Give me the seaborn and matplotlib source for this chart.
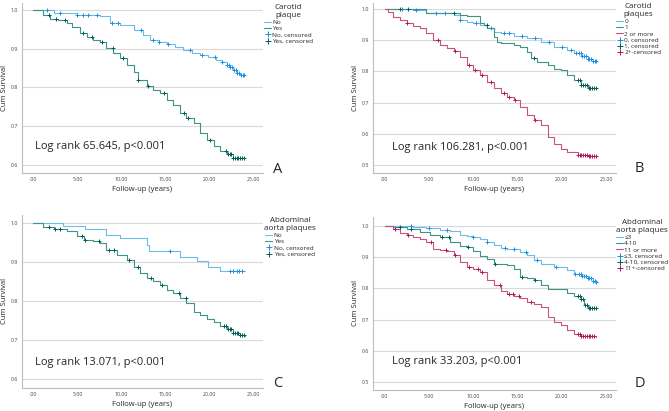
import numpy as np
import matplotlib
matplotlib.use("Agg")
import matplotlib.pyplot as plt
from matplotlib.lines import Line2D
import seaborn as sns

# --- data (step knots: time, cumulative survival) ---
a_no_t = [0, 2.3, 4.9, 7.6, 8.7, 9.8, 11.4, 12.4, 13.3, 14.3, 15.2, 16.1, 17.0, 18.0, 18.9, 19.8, 20.8, 21.4, 22.0, 22.4, 22.7, 23.1, 23.5, 23.9]
a_no_s = [1.0, 0.991, 0.988, 0.985, 0.967, 0.961, 0.948, 0.936, 0.923, 0.917, 0.912, 0.905, 0.897, 0.890, 0.884, 0.878, 0.871, 0.865, 0.858, 0.852, 0.845, 0.838, 0.833, 0.833]
a_yes_t = [0, 1.1, 1.9, 2.8, 3.8, 4.4, 5.3, 6.1, 6.8, 7.6, 8.3, 9.1, 9.8, 10.6, 11.4, 11.9, 12.9, 13.6, 14.4, 15.2, 15.9, 16.7, 17.4, 18.2, 18.9, 19.7, 20.5, 21.2, 22.0, 22.7, 23.9]
a_yes_s = [1.0, 0.987, 0.976, 0.973, 0.966, 0.957, 0.940, 0.931, 0.923, 0.918, 0.901, 0.888, 0.876, 0.858, 0.841, 0.820, 0.803, 0.794, 0.785, 0.768, 0.755, 0.734, 0.721, 0.708, 0.682, 0.665, 0.648, 0.635, 0.627, 0.618, 0.617]
a_no_cens = [1.5, 3.0, 4.9, 5.6, 6.2, 7.2, 8.9, 9.6, 12.2, 13.6, 14.3, 15.3, 17.8, 19.2, 20.6, 21.4, 22.0, 22.2, 22.4, 22.6, 22.8, 23.0, 23.2, 23.4, 23.6, 23.8, 23.9]
a_yes_cens = [1.8, 2.6, 3.6, 5.6, 6.7, 7.8, 9.0, 10.2, 11.9, 13.0, 14.8, 17.1, 17.6, 20.1, 21.9, 22.1, 22.3, 22.5, 22.7, 22.9, 23.1, 23.3, 23.5, 23.7, 23.9]

b0_t = [0, 1.7, 3.2, 4.7, 6.6, 7.8, 8.5, 9.3, 10.0, 10.8, 11.6, 12.3, 13.1, 14.6, 16.1, 17.6, 19.1, 20.6, 21.4, 22.2, 22.9, 23.5, 23.9]
b0_s = [1.0, 1.0, 0.995, 0.988, 0.986, 0.981, 0.965, 0.959, 0.956, 0.949, 0.938, 0.927, 0.922, 0.913, 0.906, 0.895, 0.879, 0.868, 0.860, 0.849, 0.838, 0.833, 0.833]
b1_t = [0, 4.7, 8.5, 9.3, 10.8, 11.2, 11.6, 12.3, 12.7, 13.1, 14.6, 15.3, 16.1, 16.5, 17.2, 18.4, 19.1, 19.9, 20.6, 21.4, 22.2, 22.9, 23.9]
b1_s = [1.0, 0.988, 0.980, 0.977, 0.956, 0.949, 0.938, 0.911, 0.895, 0.890, 0.884, 0.879, 0.863, 0.842, 0.831, 0.820, 0.809, 0.804, 0.788, 0.772, 0.756, 0.748, 0.745]
b2_t = [0, 0.4, 0.9, 1.7, 2.5, 3.2, 4.0, 4.7, 5.5, 6.3, 7.0, 7.8, 8.5, 9.3, 10.0, 10.8, 11.6, 12.3, 13.1, 13.8, 14.6, 15.3, 16.1, 16.9, 17.6, 18.4, 19.1, 19.9, 20.6, 21.8, 22.9, 23.9]
b2_s = [1.0, 0.991, 0.975, 0.963, 0.956, 0.945, 0.938, 0.922, 0.900, 0.884, 0.874, 0.866, 0.847, 0.820, 0.804, 0.788, 0.767, 0.745, 0.731, 0.718, 0.708, 0.687, 0.660, 0.644, 0.628, 0.590, 0.568, 0.552, 0.541, 0.533, 0.528, 0.524]
b0_cens = [2.0, 3.5, 5.8, 6.8, 8.5, 10.3, 12.0, 13.5, 14.0, 15.5, 17.0, 18.5, 20.0, 21.0, 21.6, 21.9, 22.1, 22.3, 22.5, 22.7, 22.9, 23.1, 23.3, 23.5, 23.7, 23.9]
b1_cens = [1.7, 2.6, 7.8, 11.5, 16.9, 21.8, 22.0, 22.2, 22.4, 22.6, 22.8, 23.0, 23.2, 23.4, 23.6, 23.8]
b2_cens = [2.5, 6.0, 8.0, 9.5, 10.2, 11.0, 12.0, 13.5, 14.0, 14.7, 17.0, 21.8, 22.0, 22.2, 22.4, 22.6, 22.8, 23.0, 23.2, 23.4, 23.6, 23.8]

c_no_t = [0, 3.4, 5.9, 8.3, 9.8, 12.9, 13.1, 16.7, 18.6, 19.9, 21.2, 24.0]
c_no_s = [1.0, 0.993, 0.985, 0.968, 0.961, 0.944, 0.927, 0.914, 0.903, 0.888, 0.878, 0.878]
c_yes_t = [0, 1.1, 2.3, 3.8, 4.9, 5.7, 6.8, 7.6, 8.3, 9.5, 10.6, 11.4, 12.1, 12.9, 13.6, 14.4, 15.2, 15.9, 16.7, 17.4, 18.2, 18.9, 19.7, 20.5, 21.2, 22.0, 22.7, 23.5, 24.0]
c_yes_s = [1.0, 0.991, 0.985, 0.979, 0.966, 0.957, 0.953, 0.948, 0.931, 0.918, 0.906, 0.888, 0.871, 0.858, 0.851, 0.841, 0.828, 0.820, 0.807, 0.794, 0.773, 0.764, 0.755, 0.747, 0.736, 0.728, 0.717, 0.712, 0.711]
c_no_cens = [15.5, 22.3, 22.7, 23.1, 23.4, 23.7]
c_yes_cens = [1.8, 2.5, 3.0, 5.5, 5.9, 7.5, 8.6, 9.2, 10.9, 11.9, 13.4, 14.6, 16.5, 17.3, 21.7, 21.9, 22.1, 22.3, 22.5, 22.7, 22.9, 23.1, 23.3, 23.5, 23.7, 23.9]

d1_t = [0, 1.7, 3.2, 4.7, 6.3, 7.4, 8.5, 9.3, 10.0, 10.8, 11.6, 12.3, 13.1, 13.8, 15.3, 16.1, 16.9, 17.6, 19.1, 20.6, 21.4, 22.2, 22.9, 23.5, 23.9]
d1_s = [1.0, 1.0, 0.997, 0.994, 0.988, 0.983, 0.970, 0.968, 0.965, 0.959, 0.949, 0.938, 0.930, 0.925, 0.917, 0.906, 0.890, 0.879, 0.869, 0.858, 0.847, 0.840, 0.833, 0.823, 0.820]
d2_t = [0, 0.9, 2.5, 4.0, 5.1, 6.3, 7.4, 8.5, 9.3, 10.0, 10.8, 11.6, 12.3, 13.8, 14.6, 15.3, 16.1, 16.9, 17.6, 18.4, 19.1, 20.6, 21.4, 22.2, 22.5, 22.9, 23.9]
d2_s = [1.0, 0.997, 0.989, 0.981, 0.972, 0.965, 0.949, 0.936, 0.932, 0.919, 0.904, 0.895, 0.879, 0.874, 0.861, 0.837, 0.833, 0.826, 0.810, 0.799, 0.797, 0.786, 0.776, 0.765, 0.746, 0.737, 0.735]
d3_t = [0, 0.9, 1.7, 2.5, 3.2, 4.0, 4.7, 5.5, 6.3, 7.0, 7.8, 8.5, 9.3, 10.0, 10.8, 11.6, 12.3, 13.1, 13.8, 14.6, 15.3, 16.1, 16.9, 17.6, 18.4, 19.1, 19.9, 20.6, 21.4, 22.2, 23.9]
d3_s = [1.0, 0.991, 0.979, 0.970, 0.965, 0.960, 0.949, 0.927, 0.922, 0.919, 0.906, 0.885, 0.869, 0.863, 0.853, 0.826, 0.810, 0.791, 0.783, 0.776, 0.769, 0.756, 0.751, 0.740, 0.708, 0.692, 0.681, 0.665, 0.654, 0.646, 0.644]
d1_cens = [3.0, 5.0, 7.0, 10.0, 11.6, 13.6, 14.6, 16.0, 17.2, 19.3, 21.5, 21.9, 22.1, 22.3, 22.5, 22.7, 22.9, 23.1, 23.3, 23.5, 23.7, 23.9]
d2_cens = [1.8, 3.0, 6.5, 7.3, 9.4, 12.4, 15.5, 17.0, 21.8, 22.0, 22.2, 22.4, 22.6, 22.8, 23.0, 23.2, 23.4, 23.6, 23.8]
d3_cens = [1.2, 2.6, 5.2, 6.9, 8.0, 9.5, 10.5, 11.0, 13.0, 14.0, 14.5, 15.2, 16.5, 21.8, 22.0, 22.2, 22.4, 22.6, 22.8, 23.0, 23.2, 23.4, 23.6]

x_ticks = [0, 5, 10, 15, 20, 25]
x_tick_labels = [".00", "5.00", "10.00", "15.00", "20.00", "25.00"]

# colours: (line, censor marker)
BLUE = ("#6cbde8", "#1f8fe0")
TEAL = ("#3f948a", "#005d54")
MAG = ("#c9527e", "#b0185a")

sns.set_style("white")
plt.rcParams["font.family"] = ["Open Sans", "DejaVu Sans"]

fig = plt.figure(figsize=(6.69, 4.11), dpi=100)


def surv_at(t, s, tc):
    idx = np.searchsorted(np.array(t), np.array(tc), side="right") - 1
    return np.array(s)[idx]


def km_panel(rect, ylim, yticks, curves, labels, title, logrank, letter, legend_xy, letter_xy):
    ax = fig.add_axes(rect)
    for (t, s, cens), col in curves:
        sns.lineplot(x=t, y=s, drawstyle="steps-post", color=col[0], linewidth=0.8, ax=ax)
        sns.scatterplot(x=cens, y=surv_at(t, s, cens), marker="+", s=12, color=col[1],
                        linewidth=0.7, ax=ax, zorder=3)
    ax.set_xlim(-1.3, 26.1)
    ax.set_ylim(*ylim)
    ax.set_xticks(x_ticks)
    ax.set_xticklabels(x_tick_labels)
    ax.set_yticks(yticks)
    ax.set_yticklabels([f"{v:.1f}" for v in yticks])
    ax.tick_params(labelsize=3.8, length=0, pad=3, colors="#444444")
    ax.yaxis.grid(True, color="#d9d9d9", linewidth=0.8)
    ax.xaxis.grid(False)
    for side in ["top", "right"]:
        ax.spines[side].set_visible(False)
    for side in ["left", "bottom"]:
        ax.spines[side].set_color("#bdbdbd")
        ax.spines[side].set_linewidth(0.8)
    ax.set_xlabel("Follow-up (years)", fontsize=5.5, labelpad=3)
    ax.set_ylabel("Cum Survival", fontsize=5.5, labelpad=1.5)
    ax.text(0.2 if ylim[0] > 0.55 else 0.8, logrank[1], logrank[0], fontsize=8, va="baseline")

    handles = [Line2D([], [], color=col[0], linewidth=0.8, drawstyle="steps-post") for _, col in curves]
    handles += [Line2D([], [], color=col[1], linestyle="none", marker="+", markersize=5, markeredgewidth=0.7)
                for _, col in curves]
    leg = ax.legend(handles, labels, title=title, loc="upper left", bbox_to_anchor=legend_xy,
                    bbox_transform=fig.transFigure, frameon=False, fontsize=4.6, title_fontsize=5.8,
                    handlelength=1.1, handletextpad=0.2, labelspacing=0.12, borderpad=0, borderaxespad=0)
    leg.get_title().set_multialignment("center")
    fig.text(letter_xy[0], letter_xy[1], letter, fontsize=10.5, va="baseline")
    return ax


W, H = 669, 411

km_panel([22 / W, 1 - 173 / H, 241 / W, 170 / H], (0.579, 1.018), [0.6, 0.7, 0.8, 0.9, 1.0],
         [((a_no_t, a_no_s, a_no_cens), BLUE), ((a_yes_t, a_yes_s, a_yes_cens), TEAL)],
         ["No", "Yes", "No, censored", "Yes, censored"], "Carotid\nplaque",
         ("Log rank 65.645, p<0.001", 0.640), "A", (264 / W, 1 - 4 / H), (273 / W, 1 - 173 / H))

km_panel([373 / W, 1 - 173 / H, 243 / W, 170 / H], (0.474, 1.019), [0.5, 0.6, 0.7, 0.8, 0.9, 1.0],
         [((b0_t, b0_s, b0_cens), BLUE), ((b1_t, b1_s, b1_cens), TEAL), ((b2_t, b2_s, b2_cens), MAG)],
         ["0", "1", "2 or more", "0, censored", "1, censored", "2+-censored"], "Carotid\nplaques",
         ("Log rank 106.281, p<0.001", 0.547), "B", (616 / W, 1 - 3 / H), (635 / W, 1 - 172 / H))

km_panel([22 / W, 1 - 388 / H, 241 / W, 173 / H], (0.577, 1.0205), [0.6, 0.7, 0.8, 0.9, 1.0],
         [((c_no_t, c_no_s, c_no_cens), BLUE), ((c_yes_t, c_yes_s, c_yes_cens), TEAL)],
         ["No", "Yes", "No, censored", "Yes, censored"], "Abdominal\naorta plaques",
         ("Log rank 13.071, p<0.001", 0.637), "C", (264 / W, 1 - 217 / H), (273 / W, 1 - 387 / H))

km_panel([373 / W, 1 - 390 / H, 243 / W, 173 / H], (0.474, 1.029), [0.5, 0.6, 0.7, 0.8, 0.9, 1.0],
         [((d1_t, d1_s, d1_cens), BLUE), ((d2_t, d2_s, d2_cens), TEAL), ((d3_t, d3_s, d3_cens), MAG)],
         ["≤3", "4-10", "11 or more", "≤3, censored", "4-10, censored", "11+-censored"],
         "Abdominal\naorta plaques",
         ("Log rank 33.203, p<0.001", 0.556), "D", (616 / W, 1 - 219 / H), (635 / W, 1 - 387 / H))

fig.savefig("out.png", dpi=100)
